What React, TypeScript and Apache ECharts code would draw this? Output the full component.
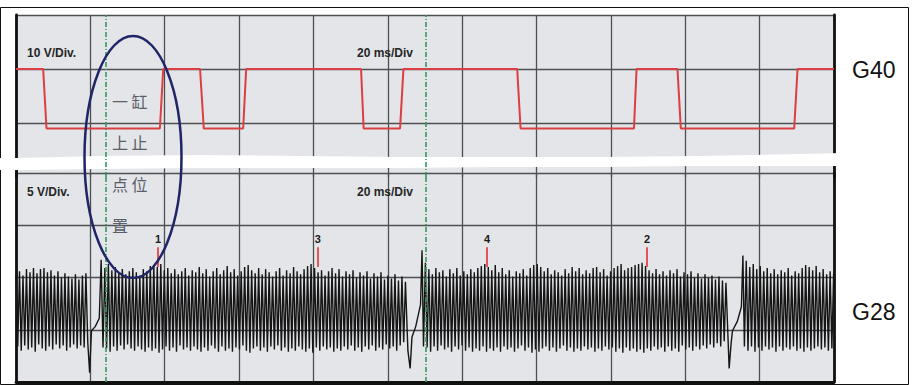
import React, { useEffect, useRef } from "react";
import * as echarts from "echarts";

// ---- time base (ms) ----
const timeMinMs = 0;
const timeMaxMs = 220;
const timeDivMs = 20;

// ---- G40 (10 V/Div) square wave: corner points ----
const g40Ms = [0, 7.3, 8.2, 38.7, 39.6, 49.5, 50.5, 61.1, 61.9, 92.8, 93.5, 103.3, 104.2, 134.8, 135.7, 166.2, 166.9, 177.9, 178.8, 209.3, 210.2, 220];
const g40Volts = [10, 10, -1, -1, 10, 10, -1, -1, 10, 10, -1, -1, 10, 10, -1, -1, 10, 10, -1, -1, 10, 10];

// ---- G28 (5 V/Div) trace: sample spacing and segment starts (ms) ----
const g28StepMs = 0.47;
const g28SegStartMs = [0, 23.9, 110.1, 196.4];

const g28SegA = [
  10.3, 3.4, 10.6, 3.0, 10.2, 3.5, 10.8, 3.1, 10.5, 3.3, 10.9, 2.9, 10.4, 3.6, 10.8, 3.2, 10.9, 3.0, 10.5, 3.4,
  10.7, 3.1, 10.2, 3.6, 10.6, 3.2, 10.0, 3.5, 10.4, 3.0, 10.1, 3.3, 9.9, 3.6, 10.3, 3.2, 9.8, 3.5, 10.2, 3.3, 10.4,
];
const g28Gap1 = [[19.3, 3.8], [19.8, 0.9], [20.3, 4.9], [21.3, 5.3], [22.4, 6.1], [22.9, 11.7], [23.4, 3.3]];
const g28SegB = [
  10.9, 3.2, 11.3, 2.9, 10.7, 3.4, 11.0, 3.0, 10.4, 3.5, 10.8, 3.1, 10.3, 3.6, 10.6, 3.2, 10.9, 3.0, 10.5, 3.4,
  10.2, 3.1, 10.8, 2.9, 10.6, 3.3, 11.1, 3.0, 11.2, 3.2, 11.0, 2.8, 11.3, 3.1, 10.7, 3.4, 10.9, 3.0, 10.4, 3.3,
  10.8, 2.9, 10.3, 3.5, 10.6, 3.1, 10.9, 3.3, 10.2, 3.0, 10.7, 3.4, 10.5, 3.1, 11.0, 2.9, 10.4, 3.3, 10.8, 3.0,
  10.1, 3.5, 10.6, 3.2, 10.9, 2.9, 10.3, 3.4, 10.7, 3.0, 11.1, 3.2, 10.5, 2.9, 10.8, 3.3, 10.2, 3.1, 10.6, 3.5,
  11.0, 3.0, 11.2, 2.8, 10.7, 3.2, 10.4, 3.4, 10.9, 3.0, 10.3, 3.3, 10.8, 2.9, 10.5, 3.4, 10.1, 3.1, 10.6, 3.5,
  10.9, 3.0, 10.2, 3.3, 10.7, 2.9, 10.4, 3.2, 11.0, 3.0, 10.6, 3.4, 10.3, 3.1, 10.8, 2.9, 11.1, 3.2, 11.3, 2.8,
  10.9, 3.3, 10.5, 3.0, 10.7, 3.4, 10.2, 3.1, 10.6, 3.3, 10.9, 2.9, 10.4, 3.2, 10.8, 3.0, 10.1, 3.4, 10.6, 3.1,
  10.3, 3.5, 10.7, 3.0, 10.0, 3.3, 10.5, 2.9, 10.2, 3.4, 10.6, 3.1, 9.9, 3.5, 10.4, 3.0, 10.1, 3.3, 10.5, 3.1,
  9.8, 3.6, 10.2, 3.2, 9.9, 3.4, 10.3, 3.0, 9.7, 3.5, 10.1, 3.8, 9.6,
];
const g28Gap2 = [[105.4, 3.0], [106.0, 1.3], [106.5, 4.3], [107.5, 5.3], [108.8, 7.4], [109.2, 12.6], [109.6, 3.4]];
const g28SegC = [
  11.4, 3.3, 10.8, 2.9, 10.3, 3.4, 10.9, 3.0, 10.5, 3.5, 10.7, 3.1, 10.1, 3.3, 10.8, 2.9, 10.4, 3.4, 10.9, 3.1,
  10.2, 3.5, 10.6, 3.0, 10.3, 3.3, 10.8, 2.9, 10.5, 3.2, 10.9, 3.0, 11.1, 3.4, 11.3, 2.9, 11.0, 3.2, 10.7, 3.0,
  11.2, 3.3, 10.5, 2.9, 10.9, 3.4, 10.3, 3.1, 10.7, 3.3, 10.1, 2.9, 10.6, 3.2, 10.4, 3.5, 10.8, 3.0, 10.2, 3.3,
  10.9, 2.8, 11.2, 3.1, 11.3, 2.9, 11.0, 3.2, 10.6, 3.4, 10.9, 3.0, 10.3, 3.3, 10.7, 2.9, 10.5, 3.2, 10.2, 3.5,
  10.8, 3.0, 10.4, 3.3, 11.0, 2.9, 10.6, 3.2, 10.9, 3.0, 10.3, 3.4, 10.7, 3.1, 10.4, 3.3, 10.9, 2.9, 11.0, 3.2,
  10.5, 3.0, 10.8, 3.4, 10.2, 3.1, 10.6, 3.3, 10.9, 2.9, 11.1, 3.2, 11.3, 2.8, 10.7, 3.3, 10.9, 3.0, 11.0, 3.2,
  11.2, 2.9, 11.3, 3.1, 11.4, 2.8, 11.1, 3.2, 10.7, 3.0, 10.4, 3.4, 10.8, 3.1, 10.3, 3.3, 10.6, 2.9, 10.2, 3.4,
  10.7, 3.0, 10.4, 3.2, 10.8, 2.9, 10.1, 3.5, 10.5, 3.1, 10.3, 3.3, 10.6, 3.0, 10.0, 3.4, 10.4, 3.1, 9.9, 3.5,
  10.3, 3.2, 10.0, 3.6, 10.2, 3.3, 9.8, 3.7, 10.1, 3.4, 9.7, 3.9, 9.5,
];
const g28Gap3 = [[191.8, 1.3], [192.3, 3.6], [192.7, 4.9], [194.0, 5.8], [195.1, 7.2], [195.5, 12.1], [195.9, 3.4]];
const g28SegD = [
  11.6, 3.0, 11.0, 3.4, 11.3, 2.9, 10.8, 3.3, 11.1, 3.0, 10.6, 3.4, 10.9, 3.1, 10.4, 3.3, 10.8, 2.9, 10.3, 3.4,
  10.7, 3.0, 10.5, 3.3, 10.9, 3.1, 10.2, 3.4, 10.6, 3.0, 10.4, 3.2, 10.9, 2.9, 11.2, 3.3, 11.0, 3.0, 10.7, 3.2,
  11.1, 3.4, 10.5, 3.1, 10.8, 3.3, 10.3, 3.0, 10.6, 3.2, 10.4,
];

// ---- cursors and cylinder markers ----
const cursorMs = [24.2, 110.1];
const markerNames = ["1", "3", "4", "2"];
const markerMs = [38.2, 81.2, 126.7, 169.7];
const markerTopV = 12.9;
const markerBottomV = 11.0;

// ---- texts ----
const g40Scale = "10 V/Div.";
const g28Scale = "5 V/Div.";
const timeScale = "20 ms/Div";
const g40Name = "G40";
const g28Name = "G28";
const noteText = "一 缸\n上 止\n点 位\n置";

const seg = (start: number, vals: number[]) =>
  vals.map((v, i) => [Math.round((start + i * g28StepMs) * 100) / 100, v]);

export default function App() {
  const ref = useRef<HTMLDivElement>(null);
  useEffect(() => {
    if (!ref.current) return;
    const chart = echarts.init(ref.current, undefined, { renderer: "svg" });

    const g40Data = g40Ms.map((t, i) => [t, g40Volts[i]]);
    const g28Data = [
      ...seg(g28SegStartMs[0], g28SegA),
      ...g28Gap1,
      ...seg(g28SegStartMs[1], g28SegB),
      ...g28Gap2,
      ...seg(g28SegStartMs[2], g28SegC),
      ...g28Gap3,
      ...seg(g28SegStartMs[3], g28SegD),
    ];

    const gridLine = { color: "#4d5053", width: 1.3 };
    const frameLine = { color: "#111", width: 2.8 };
    const cursorStyle = { color: "#2f9a5e", width: 1.6, type: [5, 2, 1, 2] };

    const cursorLines = cursorMs.map((t) => ({
      xAxis: t,
      lineStyle: cursorStyle,
      label: { show: false },
    }));
    const markerLines = markerMs.map((t, i) => [
      {
        name: markerNames[i],
        coord: [t, markerTopV],
        lineStyle: { color: "#e2545c", width: 2, type: "solid" },
        label: {
          show: true,
          position: "start",
          formatter: "{b}",
          color: "#1a1a1a",
          fontWeight: "bold",
          fontSize: 11,
          fontFamily: "Liberation Sans",
          distance: 3,
        },
      },
      { coord: [t, markerBottomV] },
    ]);

    const xAx = (i: number) => ({
      type: "value",
      gridIndex: i,
      min: timeMinMs,
      max: timeMaxMs,
      interval: timeDivMs,
      axisLine: { show: i === 1, onZero: false, lineStyle: frameLine },
      axisTick: { show: false },
      axisLabel: { show: false },
      splitLine: { show: true, lineStyle: gridLine },
    });
    const yAx = (grid: number, min: number, max: number, interval: number, right: boolean) => ({
      type: "value",
      gridIndex: grid,
      min,
      max,
      interval,
      position: right ? "right" : "left",
      axisLine: { show: true, onZero: false, lineStyle: frameLine },
      axisTick: { show: false },
      axisLabel: { show: false },
      splitLine: right
        ? { show: false }
        : { show: true, showMinLine: grid === 1, lineStyle: gridLine },
    });

    const txt = (text: string, x: number, y: number, style: any) => ({
      type: "text",
      x,
      y,
      z: 10,
      style: { text, ...style },
    });
    const scaleStyle = {
      fill: "#262626",
      font: "bold 12px 'Liberation Sans', Arial, sans-serif",
      textVerticalAlign: "middle",
    };

    chart.setOption({
      animation: false,
      grid: [
        { left: 16, right: 80, top: 15, height: 162, show: true, backgroundColor: "#e3e5e8", borderWidth: 0 },
        { left: 16, right: 80, top: 173, height: 209, show: true, backgroundColor: "#e3e5e8", borderWidth: 0 },
      ],
      xAxis: [xAx(0), xAx(1)],
      yAxis: [
        yAx(0, -10, 20, 10, false),
        yAx(0, -10, 20, 10, true),
        yAx(1, 0, 20, 5, false),
        yAx(1, 0, 20, 5, true),
      ],
      series: [
        {
          name: g40Name,
          type: "line",
          xAxisIndex: 0,
          yAxisIndex: 0,
          data: g40Data,
          symbol: "none",
          lineStyle: { color: "#dc3f42", width: 2 },
          markLine: { symbol: ["none", "none"], silent: true, data: cursorLines },
        },
        {
          name: g28Name,
          type: "line",
          xAxisIndex: 1,
          yAxisIndex: 2,
          data: g28Data,
          symbol: "none",
          lineStyle: { color: "#151515", width: 1.4 },
          markLine: {
            symbol: ["none", "none"],
            silent: true,
            data: [...cursorLines, ...markerLines],
          },
        },
      ],
      graphic: [
        {
          type: "rect",
          z: 0,
          shape: { x: 0.5, y: 7.5, width: 908, height: 377 },
          style: { fill: "none", stroke: "#111", lineWidth: 1 },
        },
        {
          type: "polygon",
          z: 1,
          shape: {
            points: [
              [0, 158], [20, 158], [100, 156], [200, 155], [300, 156], [400, 157], [500, 157], [600, 157],
              [700, 156], [800, 154], [842, 153], [842, 166], [800, 166], [700, 166], [600, 167], [500, 167],
              [400, 168], [300, 168], [200, 168], [100, 169], [20, 170], [0, 170],
            ],
          },
          style: { fill: "#ffffff" },
        },
        {
          type: "ellipse",
          z: 10,
          shape: { cx: 133, cy: 157, rx: 48.5, ry: 121 },
          style: { fill: "none", stroke: "#1f2566", lineWidth: 2.5 },
        },
        txt(noteText, 112, 80, {
          fill: "#595e69",
          font: "16px 'Noto Sans CJK SC', sans-serif",
          lineHeight: 41.5,
        }),
        txt(g40Scale, 27, 53, scaleStyle),
        txt(timeScale, 357, 53, scaleStyle),
        txt(g28Scale, 27, 192, scaleStyle),
        txt(timeScale, 357, 192, scaleStyle),
        txt(g40Name, 852, 70, {
          fill: "#111",
          font: "23px 'Liberation Sans', Arial, sans-serif",
          textVerticalAlign: "middle",
        }),
        txt(g28Name, 852, 312, {
          fill: "#111",
          font: "23px 'Liberation Sans', Arial, sans-serif",
          textVerticalAlign: "middle",
        }),
      ],
    });
    return () => chart.dispose();
  }, []);
  return (
    <div
      ref={ref}
      style={{ position: "absolute", left: 0, top: 0, width: 914, height: 385, background: "#fff" }}
    />
  );
}
